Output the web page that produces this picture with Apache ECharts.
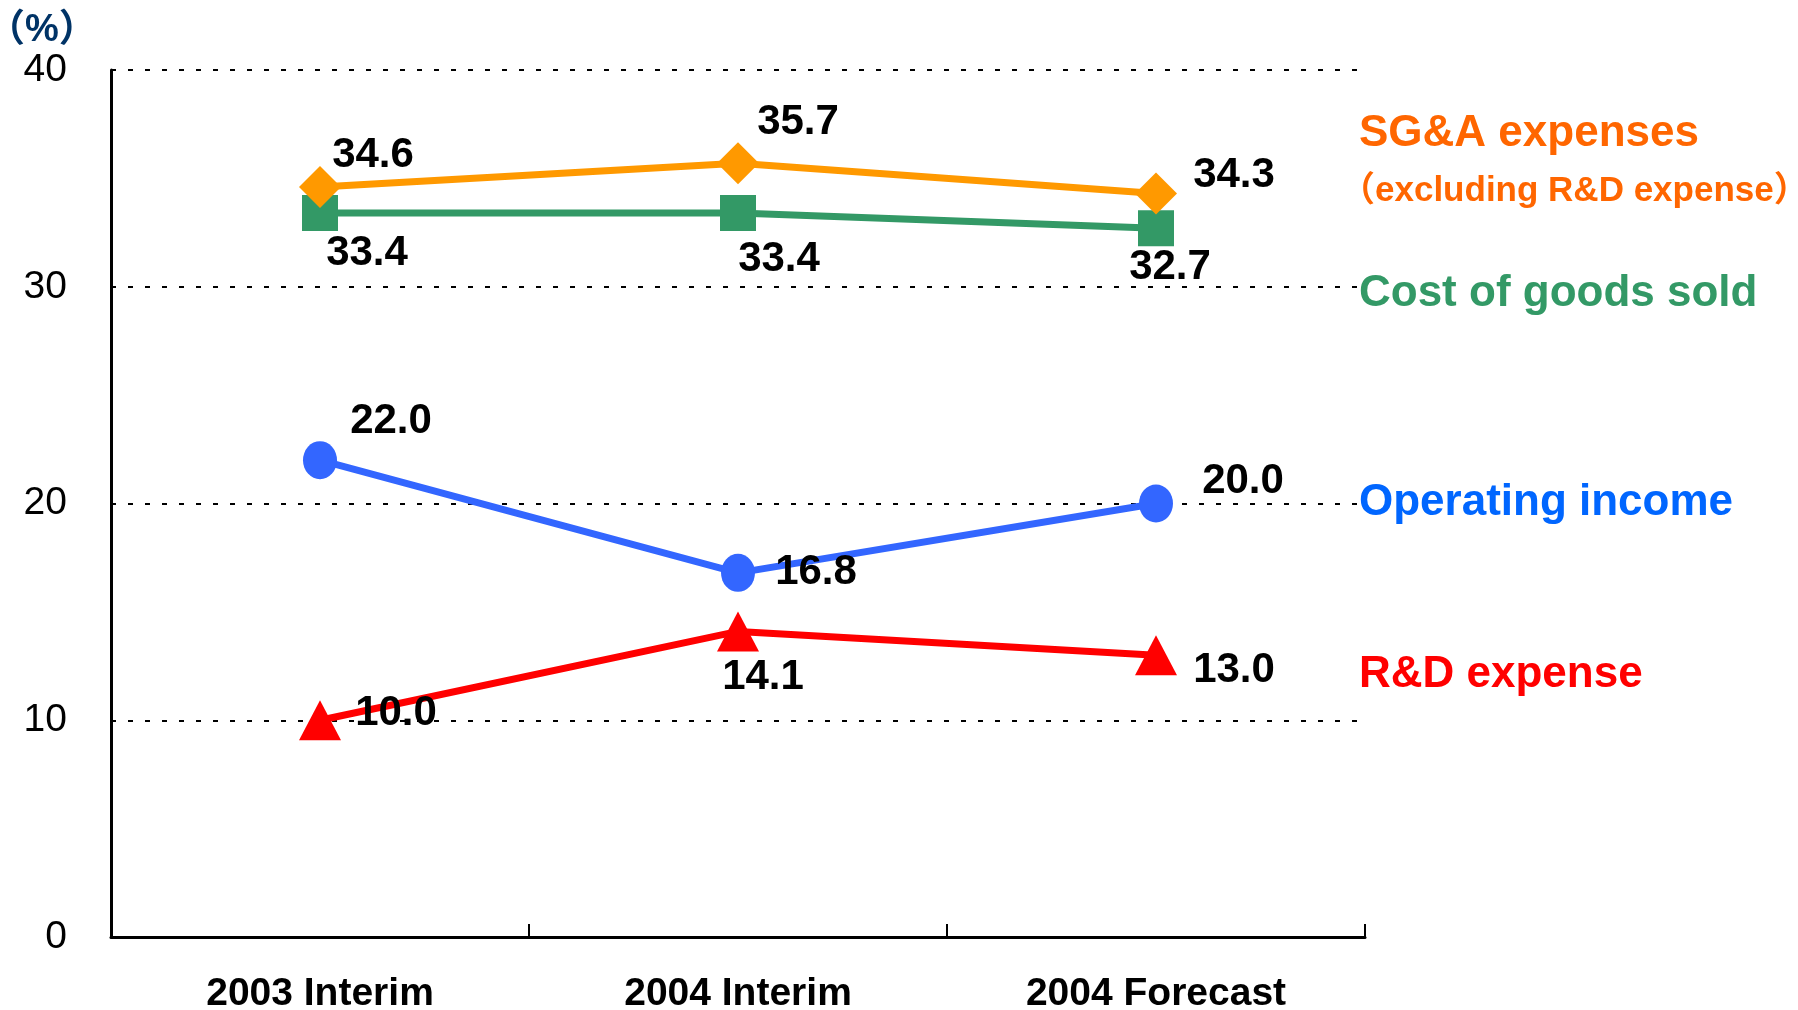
<!DOCTYPE html>
<html>
<head>
<meta charset="utf-8">
<script src="https://cdn.jsdelivr.net/npm/echarts@6/dist/echarts.min.js"></script>
<style>
  html, body { margin: 0; padding: 0; background: #fff; }
  #chart { width: 1798px; height: 1010px; }
</style>
</head>
<body>
<div id="chart"></div>
<script>
// categories and values
var categories = ['2003 Interim', '2004 Interim', '2004 Forecast'];
var sgaValues = [34.6, 35.7, 34.3];
var cogsValues = [33.4, 33.4, 32.7];
var opIncomeValues = [22.0, 16.8, 20.0];
var rdValues = [10.0, 14.1, 13.0];
var yTicks = [0, 10, 20, 30, 40];

// label offsets (px) from each point
var sgaOffsets = [[53, -32], [60, -41], [78, -18]];
var cogsOffsets = [[47, 40], [41, 46], [14, 39]];
var opOffsets = [[71, -39], [78, 0], [87, -22]];
var rdOffsets = [[76, -7], [25, 46], [78, 15]];

var FONT = '"Liberation Sans", Arial, "Noto Sans CJK JP", sans-serif';

function withLabels(values, offsets) {
    return values.map(function (v, i) {
        return {
            value: v,
            label: { offset: offsets[i] }
        };
    });
}

var labelStyle = {
    show: true,
    position: 'inside',
    color: '#000',
    fontFamily: FONT,
    fontWeight: 'bold',
    fontSize: 42,
    formatter: function (p) { return p.value.toFixed(1); }
};

var option = {
    animation: false,
    backgroundColor: '#fff',
    grid: {
        left: 111,
        right: 433,
        top: 70,
        bottom: 73,
        containLabel: false,
        outerBoundsMode: 'none'
    },
    xAxis: {
        type: 'category',
        data: categories,
        boundaryGap: true,
        axisLine: { lineStyle: { color: '#000', width: 3 } },
        axisTick: { show: true, inside: true, length: 13, lineStyle: { color: '#000', width: 2 } },
        axisLabel: {
            color: '#000',
            fontFamily: FONT,
            fontWeight: 'bold',
            fontSize: 39,
            margin: 38
        },
        splitLine: { show: false }
    },
    yAxis: {
        type: 'value',
        min: yTicks[0],
        max: yTicks[yTicks.length - 1],
        interval: 10,
        axisLine: { show: true, lineStyle: { color: '#000', width: 3 } },
        axisTick: { show: false },
        axisLabel: {
            color: '#000',
            fontFamily: FONT,
            fontSize: 39,
            margin: 44
        },
        splitLine: {
            show: true,
            lineStyle: { color: '#000', width: 2, type: [5, 12] }
        }
    },
    graphic: [
        { type: 'text', left: -13, top: 12, style: { text: '（%）', fill: '#003366', font: 'bold 38px ' + FONT } },
        { type: 'text', left: 1359, top: 112, style: { text: 'SG&A expenses', fill: '#FF6600', font: 'bold 44px ' + FONT } },
        { type: 'text', left: 1340, top: 174, style: { text: '（excluding R&D expense）', fill: '#FF6600', font: 'bold 35px ' + FONT } },
        { type: 'text', left: 1359, top: 272, style: { text: 'Cost of goods sold', fill: '#339966', font: 'bold 44px ' + FONT } },
        { type: 'text', left: 1359, top: 481, style: { text: 'Operating income', fill: '#0066FF', font: 'bold 44px ' + FONT } },
        { type: 'text', left: 1359, top: 653, style: { text: 'R&D expense', fill: '#FF0000', font: 'bold 44px ' + FONT } }
    ],
    series: [
        {
            name: 'Cost of goods sold',
            type: 'line',
            data: withLabels(cogsValues, cogsOffsets),
            symbol: 'rect',
            symbolSize: 36,
            lineStyle: { color: '#339966', width: 7 },
            itemStyle: { color: '#339966' },
            label: labelStyle,
            z: 2
        },
        {
            name: 'SG&A expenses',
            type: 'line',
            data: withLabels(sgaValues, sgaOffsets),
            symbol: 'diamond',
            symbolSize: 42,
            lineStyle: { color: '#FF9900', width: 7 },
            itemStyle: { color: '#FF9900' },
            label: labelStyle,
            z: 3
        },
        {
            name: 'Operating income',
            type: 'line',
            data: withLabels(opIncomeValues, opOffsets),
            symbol: 'circle',
            symbolSize: [34, 38],
            lineStyle: { color: '#3366FF', width: 7 },
            itemStyle: { color: '#3366FF' },
            label: labelStyle,
            z: 3
        },
        {
            name: 'R&D expense',
            type: 'line',
            data: withLabels(rdValues, rdOffsets),
            symbol: 'triangle',
            symbolSize: [42, 40],
            lineStyle: { color: '#FF0000', width: 7 },
            itemStyle: { color: '#FF0000' },
            label: labelStyle,
            z: 3
        }
    ]
};

var myChart = echarts.init(document.getElementById('chart'));
myChart.setOption(option);
</script>
</body>
</html>
